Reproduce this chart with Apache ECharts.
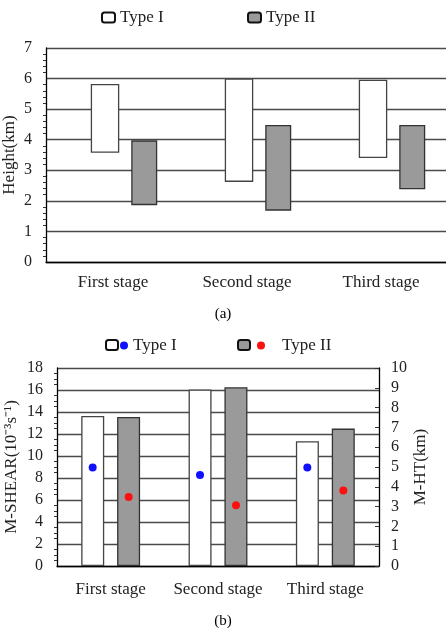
<!DOCTYPE html>
<html>
<head>
<meta charset="utf-8">
<script src="https://cdn.jsdelivr.net/npm/echarts@6/dist/echarts.min.js"></script>
<style>
html,body{margin:0;padding:0;background:#fff;}
#c{width:446px;height:628px;}
</style>
</head>
<body>
<div id="c"></div>
<script>
// ---- data ----
var stages = ['First stage', 'Second stage', 'Third stage'];
// (a) height ranges (km)
var typeIBottom = [3.57, 2.62, 3.40];
var typeITop = [5.82, 6.00, 5.96];
var typeIIBottom = [1.86, 1.68, 2.38];
var typeIITop = [3.98, 4.48, 4.48];
// (b) M-SHEAR (10^-3 s^-1) bars
var shearI = [13.64, 16.04, 11.34];
var shearII = [13.55, 16.25, 12.49];
// (b) M-HT (km) points
var htI = [4.97, 4.60, 4.97];
var htII = [3.48, 3.07, 3.81];
// tick labels are generated by axes: 0..7, 0..18 step 2, 0..10

function diff(a, b) { return a.map(function (v, i) { return +(v - b[i]).toFixed(2); }); }

var FONT = '"Liberation Serif", "Times New Roman", serif';
var TXT = '#222';
var GRID = '#4a4a4a';

var chart = echarts.init(document.getElementById('c'), null, {renderer: 'canvas'});

var whiteStyle = {color: '#ffffff', borderColor: '#444', borderWidth: 1.3};
var grayStyle = {color: '#9a9a9a', borderColor: '#333', borderWidth: 1.3};

var option = {
  animation: false,
  backgroundColor: '#fff',
  textStyle: {fontFamily: FONT},
  grid: [
    {left: 46, top: 48, width: 402, height: 214, containLabel: false, outerBoundsMode: 'none'},
    {left: 57, top: 368, width: 322, height: 198, containLabel: false, outerBoundsMode: 'none'}
  ],
  xAxis: [
    {
      type: 'category', gridIndex: 0, data: stages,
      axisLine: {lineStyle: {color: '#000', width: 1.3}},
      axisTick: {show: false},
      axisLabel: {color: TXT, fontFamily: FONT, fontSize: 17, margin: 12, interval: 0, hideOverlap: false}
    },
    {
      type: 'category', gridIndex: 1, data: stages,
      axisLine: {lineStyle: {color: '#000', width: 1.3}},
      axisTick: {show: false},
      axisLabel: {color: TXT, fontFamily: FONT, fontSize: 17, margin: 15, interval: 0, hideOverlap: false}
    }
  ],
  yAxis: [
    {
      type: 'value', gridIndex: 0, min: 0, max: 7, interval: 1,
      name: 'Height(km)', nameLocation: 'middle', nameRotate: 90, nameGap: 28, nameMoveOverlap: false,
      nameTextStyle: {color: TXT, fontFamily: FONT, fontSize: 17},
      axisLine: {show: true, lineStyle: {color: '#000', width: 1.3}},
      axisTick: {show: false},
      minorTick: {show: true, splitNumber: 5, length: 3, lineStyle: {color: '#333'}},
      axisLabel: {color: TXT, fontFamily: FONT, fontSize: 16, margin: 14},
      splitLine: {show: true, lineStyle: {color: GRID, width: 1.3}}
    },
    {
      type: 'value', gridIndex: 1, min: 0, max: 18, interval: 2,
      name: 'M-SHEAR(10\u207B\u00B3s\u207B\u00B9)', nameLocation: 'middle', nameRotate: 90, nameGap: 37, nameMoveOverlap: false,
      nameTextStyle: {color: TXT, fontFamily: FONT, fontSize: 17},
      axisLine: {show: true, lineStyle: {color: '#000', width: 1.3}},
      axisTick: {show: false},
      minorTick: {show: true, splitNumber: 4, length: 3, lineStyle: {color: '#333'}},
      axisLabel: {color: TXT, fontFamily: FONT, fontSize: 16, margin: 14},
      splitLine: {show: true, lineStyle: {color: GRID, width: 1.3}}
    },
    {
      type: 'value', gridIndex: 1, position: 'right', min: 0, max: 10, interval: 1,
      name: 'M-HT(km)', nameLocation: 'middle', nameRotate: 90, nameGap: 33, nameMoveOverlap: false,
      nameTextStyle: {color: TXT, fontFamily: FONT, fontSize: 17},
      axisLine: {show: true, lineStyle: {color: '#000', width: 1.3}},
      axisTick: {show: true, inside: true, length: 4, lineStyle: {color: '#333'}},
      axisLabel: {color: TXT, fontFamily: FONT, fontSize: 16, margin: 12},
      splitLine: {show: false}
    }
  ],
  legend: [
    {
      left: 101, top: 9, padding: 0, icon: 'roundRect', itemWidth: 13, itemHeight: 10,
      textStyle: {color: TXT, fontFamily: FONT, fontSize: 17}, selectedMode: false,
      data: [{name: 'Type I', itemStyle: {color: '#fff', borderColor: '#111', borderWidth: 2}}]
    },
    {
      left: 247, top: 9, padding: 0, icon: 'roundRect', itemWidth: 13, itemHeight: 10,
      textStyle: {color: TXT, fontFamily: FONT, fontSize: 17}, selectedMode: false,
      data: [{name: 'Type II', itemStyle: {color: '#9a9a9a', borderColor: '#111', borderWidth: 2}}]
    },
    {
      left: 105, top: 339, padding: 0, icon: 'roundRect', itemWidth: 12, itemHeight: 10, textStyle: {fontSize: 1},
      formatter: function () { return ''; }, selectedMode: false,
      data: [{name: 'M-SHEAR Type I', itemStyle: {color: '#fff', borderColor: '#111', borderWidth: 2}}]
    },
    {
      left: 120, top: 337, padding: 0, icon: 'circle', itemWidth: 8, itemHeight: 8,
      textStyle: {color: TXT, fontFamily: FONT, fontSize: 17}, selectedMode: false,
      formatter: function () { return 'Type I'; },
      data: [{name: 'M-HT Type I', itemStyle: {color: '#1010ff', opacity: 1}}]
    },
    {
      left: 237, top: 339, padding: 0, icon: 'roundRect', itemWidth: 12, itemHeight: 10, textStyle: {fontSize: 1},
      formatter: function () { return ''; }, selectedMode: false,
      data: [{name: 'M-SHEAR Type II', itemStyle: {color: '#9a9a9a', borderColor: '#111', borderWidth: 2}}]
    },
    {
      left: 257, top: 337, padding: 0, icon: 'circle', itemWidth: 8, itemHeight: 8,
      textStyle: {color: TXT, fontFamily: FONT, fontSize: 17, padding: [0, 0, 0, 12]}, selectedMode: false,
      formatter: function () { return 'Type II'; },
      data: [{name: 'M-HT Type II', itemStyle: {color: '#ff1010', opacity: 1}}]
    }
  ],
  graphic: [
    {type: 'text', left: 'center', top: 307, style: {text: '(a)', font: '15px ' + FONT, fill: '#000'}},
    {type: 'text', left: 'center', top: 614, style: {text: '(b)', font: '15px ' + FONT, fill: '#000'}}
  ],
  series: [
    // spacer so that the pair sits right of the band centre as in the reference
    {name: 'sp', type: 'bar', xAxisIndex: 0, yAxisIndex: 0, stack: 's0', barWidth: 15.5, barGap: '42%',
      data: stages.map(function () { return '-'; }), itemStyle: {color: 'transparent'}, silent: true},
    {name: 'baseI', type: 'bar', xAxisIndex: 0, yAxisIndex: 0, stack: 'I', barWidth: 28.5, barGap: '42%',
      data: typeIBottom, itemStyle: {color: 'transparent', borderWidth: 0}, silent: true},
    {name: 'Type I', type: 'bar', xAxisIndex: 0, yAxisIndex: 0, stack: 'I', barWidth: 28.5, barGap: '42%',
      data: diff(typeITop, typeIBottom), itemStyle: whiteStyle},
    {name: 'baseII', type: 'bar', xAxisIndex: 0, yAxisIndex: 0, stack: 'II', barWidth: 26, barGap: '42%',
      data: typeIIBottom, itemStyle: {color: 'transparent', borderWidth: 0}, silent: true},
    {name: 'Type II', type: 'bar', xAxisIndex: 0, yAxisIndex: 0, stack: 'II', barWidth: 26, barGap: '42%',
      data: diff(typeIITop, typeIIBottom), itemStyle: grayStyle},

    {name: 'M-SHEAR Type I', type: 'bar', xAxisIndex: 1, yAxisIndex: 1, barWidth: 23, barGap: '56%',
      data: shearI, itemStyle: whiteStyle},
    {name: 'M-SHEAR Type II', type: 'bar', xAxisIndex: 1, yAxisIndex: 1, barWidth: 23, barGap: '56%',
      data: shearII, itemStyle: grayStyle},
    {name: 'M-HT Type I', type: 'scatter', xAxisIndex: 1, yAxisIndex: 2, symbol: 'circle', symbolSize: 8,
      symbolOffset: [-18, 0], data: htI, itemStyle: {color: '#1010ff', opacity: 1}, z: 5},
    {name: 'M-HT Type II', type: 'scatter', xAxisIndex: 1, yAxisIndex: 2, symbol: 'circle', symbolSize: 8,
      symbolOffset: [18, 0], data: htII, itemStyle: {color: '#ff1010', opacity: 1}, z: 5}
  ]
};
chart.setOption(option);
</script>
</body>
</html>
